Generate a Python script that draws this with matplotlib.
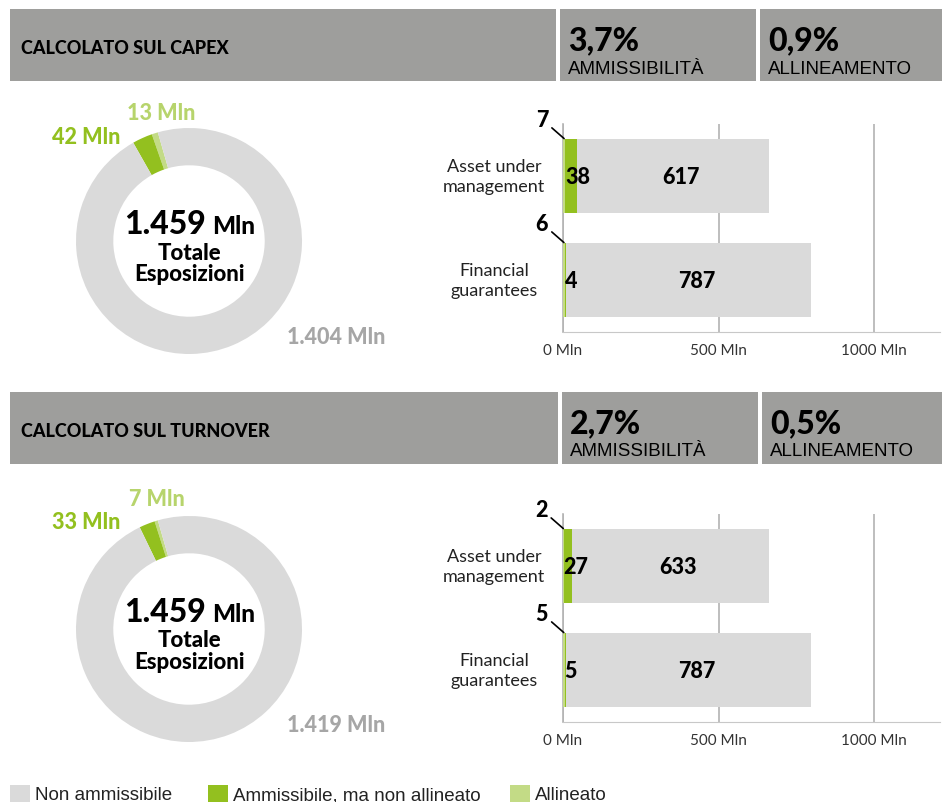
import matplotlib
matplotlib.use('Agg')
import matplotlib.pyplot as plt
from matplotlib.patches import Rectangle

W, H = 942, 803

# colours
GREY = '#dadada'
DARK_GREEN = '#93c01f'
LIGHT_GREEN = '#c3db86'
HEADER = '#9e9e9c'

# data (Mln)
sections = ['CALCOLATO SUL CAPEX', 'CALCOLATO SUL TURNOVER']
ammissibilita = ['3,7%', '2,7%']
allineamento = ['0,9%', '0,5%']
totale = ['1.459', '1.459']

donut_allineato = [13, 7]
donut_ammissibile = [42, 33]
donut_non = [1404, 1419]

categories = ['Financial\nguarantees', 'Asset under\nmanagement']
bar_allineato = [[6, 7], [5, 2]]
bar_ammissibile = [[4, 38], [5, 27]]
bar_non = [[787, 617], [787, 633]]

xticks = [0, 500, 1000]
xtick_labels = ['0 Mln', '500 Mln', '1000 Mln']

legend_labels = ['Non ammissibile', 'Ammissibile, ma non allineato', 'Allineato']

SANS = ['Lato', 'DejaVu Sans']
NARROW = ['Liberation Sans Narrow', 'Liberation Sans', 'DejaVu Sans']


def box(x0, y0, x1, y1):
    return [x0 / W, 1 - y1 / H, (x1 - x0) / W, (y1 - y0) / H]


fig = plt.figure(figsize=(W / 100, H / 100), dpi=100)
bg = fig.add_axes([0, 0, 1, 1])
bg.set_xlim(0, W)
bg.set_ylim(H, 0)
bg.axis('off')

for i in range(2):
    dy = 383 * i
    # header band
    for (x0, x1) in [(10, 556 + i * 2), (560 + i * 2, 756 + i * 2), (760 + i * 2, 942)]:
        bg.add_patch(Rectangle((x0, 10 + dy), x1 - x0, 72, color=HEADER, lw=0))
    bg.text(21, 49 + dy, sections[i], family=SANS, fontsize=13, fontweight='black',
            va='center', ha='left')
    bg.text(568 + i * 2, 41 + dy, ammissibilita[i], family=SANS, fontsize=23,
            fontweight='black', va='center')
    bg.text(568 + i * 2, 69 + dy, 'AMMISSIBILITÀ', family=NARROW, fontsize=13.5, va='center')
    bg.text(768 + i * 2, 41 + dy, allineamento[i], family=SANS, fontsize=23,
            fontweight='black', va='center')
    bg.text(768 + i * 2, 69 + dy, 'ALLINEAMENTO', family=NARROW, fontsize=13.5, va='center')

    # donut
    cy = 242 + 388 * i
    r = 113 * 1.2
    ax = fig.add_axes(box(189 - r, cy - r, 189 + r, cy + r))
    ax.pie([donut_allineato[i], donut_ammissibile[i], donut_non[i]],
           colors=[LIGHT_GREEN, DARK_GREEN, GREY], startangle=106, counterclock=True,
           wedgeprops=dict(width=0.33, linewidth=0))
    ax.set_xlim(-1.2, 1.2)
    ax.set_ylim(-1.2, 1.2)
    ax.set_aspect('equal')

    bg.text(206, cy - 8, totale[i], family=SANS, fontsize=23, fontweight='black',
            ha='right', va='baseline')
    bg.text(212, cy - 8, 'Mln', family=SANS, fontsize=17.5, fontweight='black',
            ha='left', va='baseline')
    bg.text(189, cy + 11, 'Totale', family=SANS, fontsize=16, fontweight='black',
            ha='center', va='center')
    bg.text(189, cy + 33, 'Esposizioni', family=SANS, fontsize=16, fontweight='black',
            ha='center', va='center')
    bg.text(120, cy - 105 - 2 * i, f'{donut_ammissibile[i]} Mln', family=SANS, fontsize=15.5,
            fontweight='black', color=DARK_GREEN, ha='right', va='center')
    bg.text(195 - 10 * i, cy - 128 - 2 * i, f'{donut_allineato[i]} Mln', family=SANS,
            fontsize=15.5, fontweight='black', color='#b7d46c', ha='right', va='center')
    bg.text(385, cy + 96, f'{donut_non[i]:,} Mln'.replace(',', '.'), family=SANS,
            fontsize=15.5, fontweight='black', color='#a6a6a6', ha='right', va='center')

    # stacked bars
    top = 125 + 390 * i
    bx = fig.add_axes(box(563, top, 940, top + 208))
    ypos = [0, 1]
    a = bar_allineato[i]
    b = bar_ammissibile[i]
    c = bar_non[i]
    bx.barh(ypos, a, height=0.72, color=LIGHT_GREEN, lw=0, zorder=3)
    bx.barh(ypos, b, left=a, height=0.72, color=DARK_GREEN, lw=0, zorder=3)
    left_c = [p + q for p, q in zip(a, b)]
    bx.barh(ypos, c, left=left_c, height=0.72, color=GREY, lw=0, zorder=3)
    bx.set_xlim(0, 1212)
    bx.set_ylim(-0.5, 1.5)
    bx.set_xticks(xticks)
    bx.set_xticklabels(xtick_labels, family=SANS, fontsize=11, color='#333333')
    bx.set_yticks([])
    bx.grid(axis='x', color='#b3b3b3', lw=1.2, zorder=0)
    for s in ['top', 'right']:
        bx.spines[s].set_visible(False)
    bx.spines['left'].set_color('#b3b3b3')
    bx.spines['left'].set_linewidth(1.2)
    bx.spines['bottom'].set_color('#c8c8c8')
    bx.tick_params(axis='x', length=0, pad=8)

    for k, y in enumerate(ypos):
        bx.text(a[k], y, f'{b[k]}', family=SANS, fontsize=15.5, fontweight='black',
                ha='left', va='center', zorder=4)
        bx.text(left_c[k] + c[k] / 2 + 25, y, f'{c[k]}', family=SANS, fontsize=15.5,
                fontweight='black', ha='center', va='center', zorder=4)
        bx.annotate(f'{a[k]}', xy=(a[k] / 2, y + 0.36), xytext=(-16, 14),
                    textcoords='offset points', family=SANS, fontsize=15.5,
                    fontweight='black', ha='center', va='center', zorder=4,
                    arrowprops=dict(arrowstyle='-', color='black', lw=1.2,
                                    shrinkA=1, shrinkB=0))
        bg.text(494, top + (1.5 - y) * 104, categories[k], family=SANS, fontsize=13,
                ha='center', va='center', linespacing=1.3, color='#222222')

# legend
for x, col, lab in [(10, GREY, legend_labels[0]), (208, DARK_GREEN, legend_labels[1]),
                    (510, LIGHT_GREEN, legend_labels[2])]:
    bg.add_patch(Rectangle((x, 786), 20, 20, color=col, lw=0))
    bg.text(x + 25, 796, lab, family=NARROW, fontsize=13.5, va='center', color='#222222')

fig.savefig('out.png', dpi=100)
